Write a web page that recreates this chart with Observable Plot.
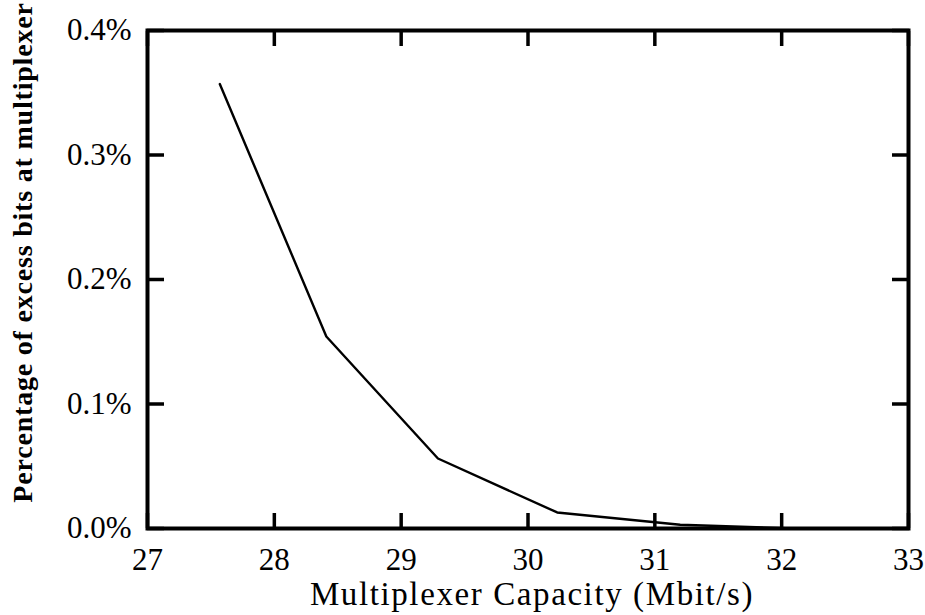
<!DOCTYPE html>
<html>
<head>
<meta charset="utf-8">
<script src="https://cdn.jsdelivr.net/npm/d3@7"></script>
<script src="https://cdn.jsdelivr.net/npm/@observablehq/plot@0.6"></script>
<style>
  html, body { margin: 0; padding: 0; background: #fff; }
  svg { font-family: "Liberation Serif", "DejaVu Serif", serif; }
  .lbl text { letter-spacing: 1.6px; }
  .ylbl text { letter-spacing: 0.8px; }
</style>
</head>
<body>
<div id="chart"></div>
<script>
const capacity = [27.57, 28.41, 29.29, 30.23, 31.2, 32.1];
const excessPct = [0.357, 0.1542, 0.0562, 0.0129, 0.003, 0.0];
const xTicks = [27, 28, 29, 30, 31, 32, 33];
const yTicks = [0.0, 0.1, 0.2, 0.3, 0.4];
const xLabel = "Multiplexer Capacity (Mbit/s)";
const yLabel = "Percentage of excess bits at multiplexer";

const data = capacity.map((c, i) => ({c, v: excessPct[i]}));

const chart = Plot.plot({
  width: 925,
  height: 615,
  marginLeft: 147,
  marginRight: 17,
  marginTop: 30,
  marginBottom: 87,
  style: {fontFamily: "'Liberation Serif', 'DejaVu Serif', serif", fontSize: "31px", color: "#000", background: "#fff"},
  x: {domain: [27, 33], ticks: xTicks},
  y: {domain: [0, 0.4], ticks: yTicks},
  marks: [
    Plot.axisX({anchor: "bottom", ticks: xTicks, tickSize: -15, tickPadding: 34, strokeWidth: 3.5, label: null, fontSize: 31,
      tickFormat: d => String(d)}),
    Plot.axisX({anchor: "top", ticks: xTicks, tickSize: -15, tickFormat: () => "", strokeWidth: 3.5, label: null}),
    Plot.axisY({anchor: "left", ticks: yTicks, tickSize: -17, tickPadding: 33, strokeWidth: 3.5, label: null, fontSize: 31,
      tickFormat: d => d.toFixed(1) + "%"}),
    Plot.axisY({anchor: "right", ticks: yTicks, tickSize: -17, tickFormat: () => "", strokeWidth: 3.5, label: null}),
    Plot.frame({stroke: "#000", strokeWidth: 4}),
    Plot.line(data, {x: "c", y: "v", stroke: "#000", strokeWidth: 2.4}),
    Plot.text([xLabel], {frameAnchor: "bottom", lineAnchor: "middle", dx: 4, dy: 66, fontSize: 33, text: d => d, fill: "#000", className: "lbl"}),
    Plot.text([yLabel], {frameAnchor: "left", lineAnchor: "middle", dx: -124, dy: -27, rotate: -90, textAnchor: "middle", fontSize: 28, fontWeight: "bold", text: d => d, fill: "#000", className: "ylbl"})
  ]
});
document.getElementById("chart").appendChild(chart);
</script>
</body>
</html>
